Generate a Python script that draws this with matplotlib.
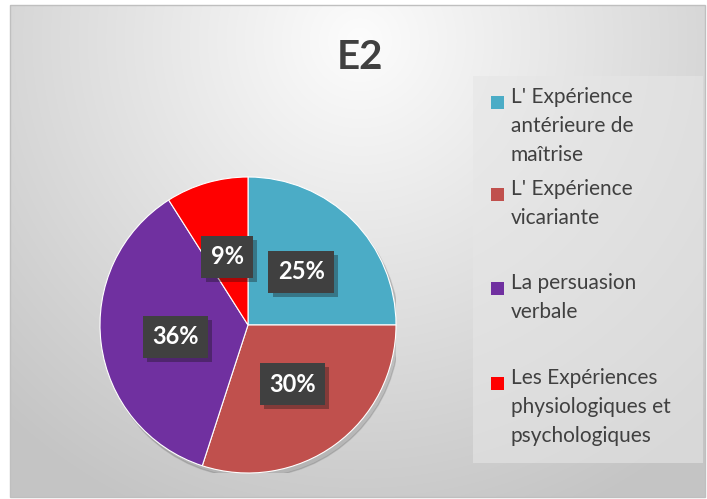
import numpy as np
import matplotlib
matplotlib.use("Agg")
import matplotlib.pyplot as plt
from matplotlib.patches import Rectangle
import matplotlib.patheffects as pe

title = "E2"
categories = ["L' Expérience\nantérieure de\nmaîtrise",
              "L' Expérience\nvicariante",
              "La persuasion\nverbale",
              "Les Expériences\nphysiologiques et\npsychologiques"]
values = [25, 30, 36, 9]
colors = ["#4BACC6", "#C0504D", "#7030A0", "#FF0000"]

plt.rcParams['font.family'] = ['Lato', 'DejaVu Sans']

W, H = 707, 499
fig = plt.figure(figsize=(W / 100, H / 100), dpi=100)
fig.patch.set_facecolor("white")

# background axes in pixel coordinates
bg = fig.add_axes([0, 0, 1, 1])
bg.set_xlim(0, W)
bg.set_ylim(H, 0)
bg.axis("off")

# radial gradient chart area
x0, x1, y0, y1 = 10, 705, 5, 497
nx, ny = 300, 220
xx, yy = np.meshgrid(np.linspace(x0, x1, nx), np.linspace(y0, y1, ny))
cx, cy = 360, 40
d = np.sqrt(((xx - cx) / 520) ** 2 + ((yy - cy) / 520) ** 2)
d = np.clip(d, 0, 1)
val = 0.99 - 0.22 * d
img = np.dstack([val, val, val])
bg.imshow(img, extent=(x0, x1, y1, y0), aspect="auto", interpolation="bilinear", zorder=0)
bg.add_patch(Rectangle((x0, y0), x1 - x0, y1 - y0, fill=False, edgecolor="#BFBFBF", lw=1, zorder=1))

# legend box
bg.add_patch(Rectangle((473, 76), 230, 387, facecolor="#E6E6E6", edgecolor="none", alpha=0.6, zorder=1))

# title
bg.text(360, 57, title, ha="center", va="center", fontsize=29, fontweight="bold", color="#404040", zorder=3)

# legend entries
legend_first_line = [102, 194, 288, 383]
for cat, col, yl in zip(categories, colors, legend_first_line):
    bg.add_patch(Rectangle((491, yl - 6), 13, 13, facecolor=col, edgecolor="none", zorder=3))
    bg.text(511, yl - 15, cat, ha="left", va="top", fontsize=15, color="#404040",
            linespacing=1.55, zorder=3)

# pie axes
pcx, pcy, r = 248, 325, 148
ax = fig.add_axes([(pcx - r) / W, (H - (pcy + r)) / H, 2 * r / W, 2 * r / H])
ax.axis("off")

# shadow
shadow = plt.Circle((0.02, -0.03), 1.0, color="black", alpha=0.12, zorder=0)
ax.add_patch(shadow)

wedges, _ = ax.pie(values, colors=colors, startangle=90, counterclock=False, radius=1,
                   wedgeprops=dict(linewidth=0.8, edgecolor="white"))
for w in wedges:
    w.set_zorder(2)
ax.set_xlim(-1, 1)
ax.set_ylim(-1, 1)
ax.set_aspect("equal")

label_pos = [(0.36, 0.36), (0.30, -0.40), (-0.49, -0.08), (-0.14, 0.46)]
for v, (lx, ly) in zip(values, label_pos):
    ax.text(lx, ly, f"{v}%", ha="center", va="center", fontsize=17, fontweight="bold",
            color="white", zorder=5,
            bbox=dict(boxstyle="square,pad=0.4", facecolor="#404040", edgecolor="none",
                      path_effects=[pe.SimplePatchShadow(offset=(3, -3), alpha=0.35), pe.Normal()]))

fig.savefig("out.png", dpi=100, facecolor="white")
